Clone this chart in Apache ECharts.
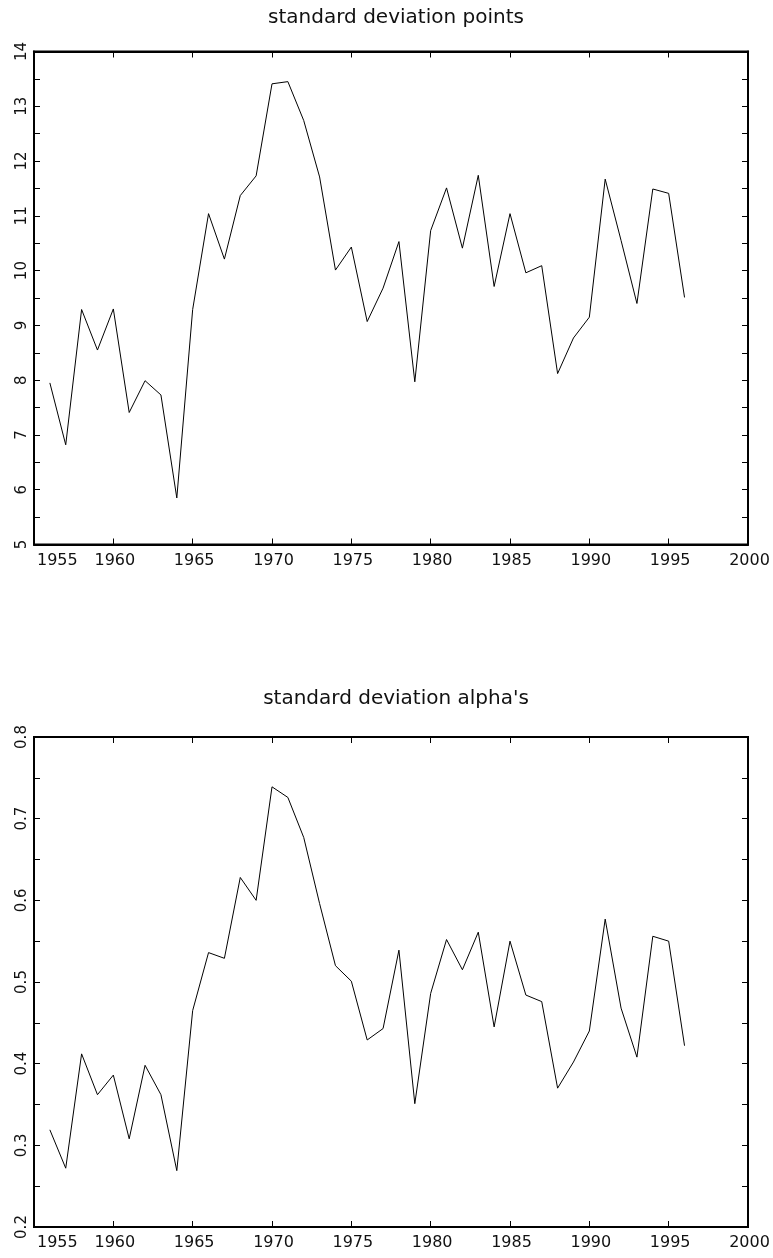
<!DOCTYPE html>
<html>
<head>
<meta charset="utf-8">
<script src="https://cdn.jsdelivr.net/npm/echarts@6/dist/echarts.min.js"></script>
<style>
html,body{margin:0;padding:0;background:#fff;}
#c{width:773px;height:1258px;}
</style>
</head>
<body>
<div id="c"></div>
<script>
var years = [1956,1957,1958,1959,1960,1961,1962,1963,1964,1965,1966,1967,1968,1969,1970,1971,1972,1973,1974,1975,1976,1977,1978,1979,1980,1981,1982,1983,1984,1985,1986,1987,1988,1989,1990,1991,1992,1993,1994,1995,1996];
var sdPoints = [7.95,6.82,9.29,8.55,9.30,7.41,7.99,7.73,5.85,9.29,11.04,10.21,11.37,11.73,13.41,13.45,12.74,11.71,10.01,10.43,9.07,9.68,10.53,7.97,10.73,11.51,10.41,11.74,9.71,11.04,9.96,10.09,8.12,8.77,9.15,11.67,10.55,9.40,11.49,11.41,9.51];
var sdAlphas = [0.319,0.272,0.412,0.362,0.386,0.308,0.398,0.362,0.269,0.465,0.536,0.529,0.628,0.600,0.739,0.726,0.677,0.596,0.520,0.501,0.429,0.443,0.539,0.351,0.486,0.552,0.515,0.561,0.445,0.550,0.484,0.476,0.370,0.402,0.440,0.577,0.468,0.408,0.556,0.550,0.422];
var titles = ["standard deviation points", "standard deviation alpha's"];
var xTicks = {min:1955, max:2000, interval:5};
var yTop = {min:5, max:14, interval:1};
var yBot = {min:0.2, max:0.8, interval:0.1};

var FONT = 'DejaVu Sans';
var TXT = '#111';
function pairs(xs, ys){ return xs.map(function(x,i){ return [x, ys[i]]; }); }

function xAxes(gi){
  var base = {
    type:'value', gridIndex:gi, min:xTicks.min, max:xTicks.max, interval:xTicks.interval,
    splitLine:{show:false},
    axisLine:{show:true, onZero:false, lineStyle:{color:'#000', width:2}},
    axisTick:{show:true, inside:true, length:6, lineStyle:{color:'#000', width:1}}
  };
  var bottom = Object.assign({}, base, {
    position:'bottom',
    axisLabel:{show:true, color:TXT, fontFamily:FONT, fontSize:16, margin:8, alignMinLabel:'left', padding:[0,0,0,3],
      formatter:function(v){ return String(v); }}
  });
  var top = Object.assign({}, base, {position:'top', axisLabel:{show:false}});
  return [bottom, top];
}
function yAxes(gi, r, dec){
  var base = {
    type:'value', gridIndex:gi, min:r.min, max:r.max, interval:r.interval,
    splitLine:{show:false}, minorSplitLine:{show:false},
    axisLine:{show:true, onZero:false, lineStyle:{color:'#000', width:2}},
    axisTick:{show:true, inside:true, length:6, lineStyle:{color:'#000', width:1}},
    minorTick:{show:true, splitNumber:2, length:6, lineStyle:{color:'#000', width:1}}
  };
  var left = Object.assign({}, base, {
    position:'left',
    axisLabel:{show:true, rotate:90, color:TXT, fontFamily:FONT, fontSize:15, margin:4,
      formatter:function(v){ return v.toFixed(dec); }}
  });
  var right = Object.assign({}, base, {position:'right', axisLabel:{show:false}});
  return [left, right];
}

var chart = echarts.init(document.getElementById('c'), null, {renderer:'canvas'});
var xa = xAxes(0).concat(xAxes(1));
var ya = yAxes(0, yTop, 0).concat(yAxes(1, yBot, 1));
chart.setOption({
  animation:false,
  backgroundColor:'#fff',
  title:[
    {text:titles[0], left:391, textAlign:'center', top:3, textStyle:{fontFamily:FONT, fontSize:20, fontWeight:'normal', color:TXT}},
    {text:titles[1], left:391, textAlign:'center', top:684, textStyle:{fontFamily:FONT, fontSize:20, fontWeight:'normal', color:TXT}}
  ],
  grid:[
    {left:34, top:51.5, width:714, height:493, show:true, borderColor:'#000', borderWidth:2, backgroundColor:'transparent'},
    {left:34, top:737, width:714, height:490, show:true, borderColor:'#000', borderWidth:2, backgroundColor:'transparent'}
  ],
  xAxis: xa,
  yAxis: ya,
  series:[
    {type:'line', xAxisIndex:0, yAxisIndex:0, data:pairs(years, sdPoints), showSymbol:false, symbol:'none', lineStyle:{color:'#000', width:1}},
    {type:'line', xAxisIndex:2, yAxisIndex:2, data:pairs(years, sdAlphas), showSymbol:false, symbol:'none', lineStyle:{color:'#000', width:1}}
  ]
});
</script>
</body>
</html>
